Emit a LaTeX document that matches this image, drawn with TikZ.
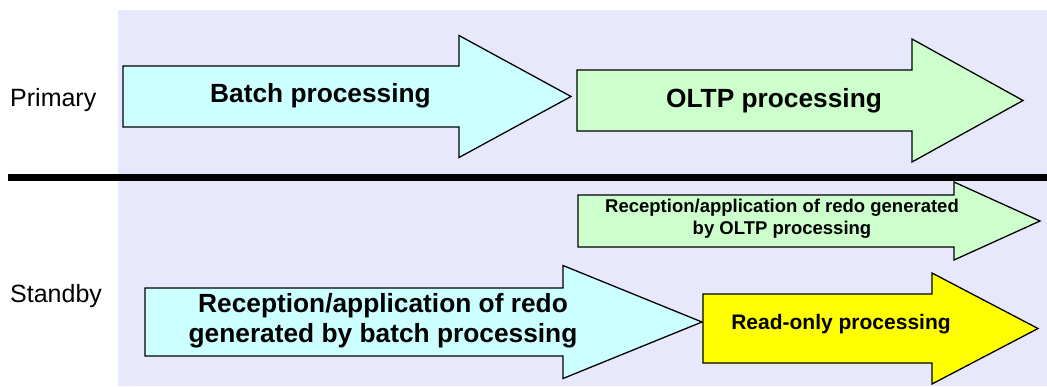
\documentclass[tikz,border=0pt]{standalone}
\usepackage{fontspec}
\setmainfont{Liberation Sans}
\definecolor{lanebg}{RGB}{232,232,252}
\definecolor{batchcyan}{RGB}{204,255,255}
\definecolor{oltpgreen}{RGB}{204,255,204}
\definecolor{ronlyyellow}{RGB}{255,255,0}
\tikzset{lane label/.style={anchor=base west,inner sep=0pt,font=\fontsize{25}{30}\selectfont},
  big text/.style={anchor=base,inner sep=0pt,align=center,font=\bfseries\fontsize{26.3}{30}\selectfont},
  small text/.style={inner sep=0pt,align=center,font=\bfseries\fontsize{18.5}{22}\selectfont},
  mid text/.style={anchor=base,inner sep=0pt,font=\bfseries\fontsize{21}{25}\selectfont},
  proc arrow/.style={draw=black,line width=1.3pt,line join=miter} }
% fill, left x, head x, tip x, shaft top, shaft bottom, head extend
\newcommand{\blockarrow}[7]{%
  \draw[proc arrow,fill=#1] (#2,#5) -- (#3,#5) -- (#3,#5-#7) -- (#4,{(#5+#6)/2})
    -- (#3,#6+#7) -- (#3,#6) -- (#2,#6) -- cycle;}

\begin{document}
\begin{tikzpicture}[x=1pt,y=-1pt]
\useasboundingbox (0,0) rectangle (1047,386);
\fill[lanebg] (118,9.5) rectangle (1047,386);
\draw[line width=7pt] (8,177.5) -- (1047,177.5);

\node[lane label] (primary) at (10,106) {Primary};
\node[lane label] (standby) at (10,302) {Standby};

% primary side
\blockarrow{batchcyan}{123}{459}{571}{66}{127}{30.5}
\blockarrow{oltpgreen}{577}{912}{1023}{70}{131}{31}
\node[big text] (batch) at (320.5,102) {Batch processing};
\node[big text] (oltp) at (774,107) {OLTP processing};

% standby side
\blockarrow{oltpgreen}{578}{954}{1040}{195}{247}{13}
\blockarrow{batchcyan}{145}{563}{702}{288}{356}{22.5}
\blockarrow{ronlyyellow}{703}{932}{1038}{294}{363}{21}
\node[small text] (redooltp) at (782,219) {Reception/application of redo generated\\by OLTP processing};
\node[big text,anchor=center] (redobatch) at (383,321) {Reception/application of redo\\generated by batch processing};
\node[mid text] (readonly) at (841,329) {Read-only processing};
\end{tikzpicture}
\end{document}
